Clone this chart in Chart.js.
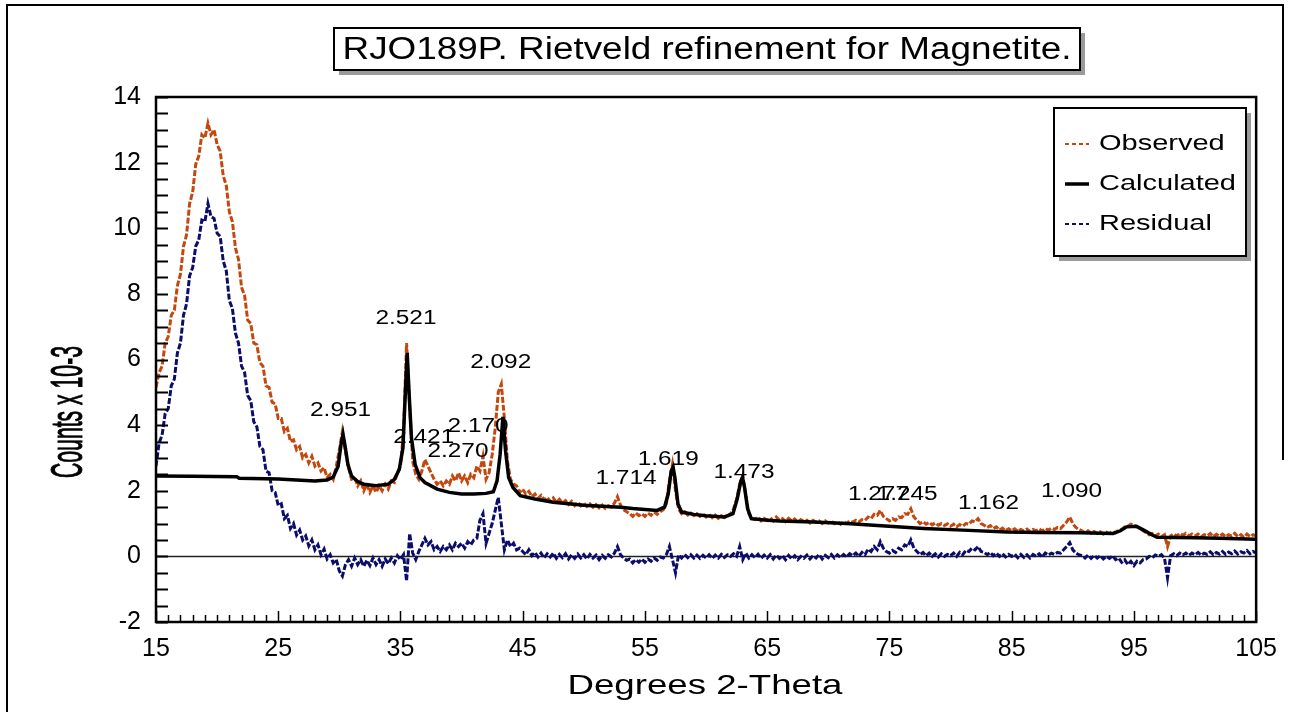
<!DOCTYPE html>
<html>
<head>
<meta charset="utf-8">
<script src="https://cdn.jsdelivr.net/npm/chart.js@4.4.0/dist/chart.umd.min.js"></script>
<style>
  body { margin: 0; background: #fff; }
  #box { width: 1289px; height: 712px; }
</style>
</head>
<body>
<div id="box"><canvas id="rietveldChart" width="1289" height="712"></canvas></div>
<script>
// 2-theta grid of the observed / residual patterns
var angleStart = 15;
var angleStep = 0.25;

// Counts x 10-3, one row = 5 degrees
var observed = [
    5.15, 5.6, 5.8, 6.5, 6.7, 7.35, 7.5, 8.25, 8.6, 9.45, 9.8, 10.75, 11.1, 11.95, 12.2, 12.85, 12.75, 13.2, 12.85, 13.0,
    12.55, 12.35, 11.6, 11.3, 10.5, 10.2, 9.4, 9.05, 8.2, 7.95, 7.2, 7.1, 6.5, 6.45, 5.9, 5.8, 5.2, 5.15, 4.7, 4.65,
    4.2, 4.2, 3.8, 3.9, 3.5, 3.55, 3.25, 3.35, 3.0, 3.1, 2.85, 3.05, 2.75, 2.85, 2.6, 2.7, 2.4, 2.5, 2.35, 2.75,
    3.25, 3.8, 3.2, 2.7, 2.35, 2.4, 2.15, 2.3, 2.0, 2.2, 1.95, 2.15, 1.95, 2.15, 2.0, 2.2, 2.05, 2.3, 2.25, 2.55,
    2.75, 3.8, 6.5, 4.6, 2.9, 2.5, 2.35, 2.6, 2.95, 2.75, 2.55, 2.35, 2.2, 2.3, 2.15, 2.3, 2.2, 2.45, 2.3, 2.55,
    2.3, 2.45, 2.25, 2.5, 2.4, 2.75, 2.6, 3.05, 2.35, 2.55, 3.1, 3.9, 5.0, 5.25, 4.2, 2.9, 2.35, 2.2, 2.15, 1.95,
    2.05, 1.9, 1.98, 1.82, 1.9, 1.76, 1.86, 1.72, 1.8, 1.68, 1.78, 1.64, 1.74, 1.62, 1.7, 1.58, 1.68, 1.55, 1.65, 1.54,
    1.62, 1.52, 1.6, 1.5, 1.58, 1.48, 1.56, 1.46, 1.54, 1.5, 1.62, 1.82, 1.56, 1.42, 1.36, 1.3, 1.22, 1.32, 1.24, 1.3,
    1.22, 1.32, 1.25, 1.35, 1.28, 1.36, 1.42, 1.6, 2.3, 2.8, 2.0, 1.45, 1.3, 1.36, 1.26, 1.32, 1.24, 1.3, 1.22, 1.28,
    1.2, 1.28, 1.18, 1.26, 1.16, 1.24, 1.18, 1.22, 1.3, 1.45, 1.75, 2.2, 2.45, 1.85, 1.3, 1.15, 1.12, 1.2, 1.08, 1.16,
    1.1, 1.18, 1.08, 1.2, 1.1, 1.15, 1.06, 1.16, 1.08, 1.14, 1.04, 1.12, 1.06, 1.1, 1.02, 1.1, 1.04, 1.08, 1.0, 1.08,
    1.02, 1.08, 1.0, 1.06, 0.98, 1.05, 1.0, 1.08, 1.04, 1.1, 1.05, 1.12, 1.1, 1.2, 1.15, 1.28, 1.25, 1.4, 1.22, 1.15,
    1.08, 1.15, 1.1, 1.2, 1.18, 1.3, 1.28, 1.45, 1.2, 1.1, 1.0, 1.06, 0.98, 1.04, 0.96, 1.02, 0.95, 1.0, 0.94, 0.99,
    0.92, 0.98, 0.9, 0.97, 0.92, 1.0, 0.98, 1.08, 1.05, 1.15, 1.0, 0.95, 0.88, 0.94, 0.85, 0.9, 0.8, 0.86, 0.78, 0.84,
    0.78, 0.84, 0.76, 0.82, 0.77, 0.83, 0.76, 0.82, 0.78, 0.84, 0.77, 0.85, 0.8, 0.86, 0.82, 0.88, 0.85, 0.95, 1.05, 1.2,
    1.0, 0.88, 0.82, 0.78, 0.72, 0.78, 0.7, 0.76, 0.7, 0.75, 0.68, 0.74, 0.7, 0.76, 0.72, 0.8, 0.82, 0.9, 0.92, 0.98,
    0.95, 0.9, 0.85, 0.78, 0.72, 0.66, 0.7, 0.62, 0.68, 0.6, 0.66, 0.3, 0.62, 0.68, 0.62, 0.7, 0.64, 0.7, 0.63, 0.68,
    0.62, 0.68, 0.6, 0.66, 0.63, 0.7, 0.6, 0.67, 0.62, 0.68, 0.6, 0.66, 0.62, 0.7, 0.6, 0.66, 0.58, 0.68, 0.6, 0.66,
    0.62
];

var residual = [
    2.75, 3.45, 3.7, 4.35, 4.5, 5.2, 5.4, 6.2, 6.5, 7.35, 7.7, 8.55, 8.8, 9.45, 9.65, 10.25, 10.2, 10.75, 10.35, 10.3,
    9.85, 9.75, 9.0, 8.7, 7.8, 7.55, 6.8, 6.5, 5.8, 5.6, 4.9, 4.75, 4.1, 3.95, 3.35, 3.25, 2.6, 2.55, 2.0, 1.95,
    1.55, 1.6, 1.15, 1.25, 0.85, 1.0, 0.65, 0.8, 0.5, 0.62, 0.32, 0.5, 0.2, 0.35, 0.05, 0.22, -0.08, 0.05, -0.2, -0.1,
    -0.45, -0.6, -0.25, -0.1, -0.3, -0.05, -0.25, -0.1, -0.3, -0.12, -0.28, -0.05, -0.25, -0.1, -0.3, -0.08, -0.22, -0.05, -0.2, 0.02,
    -0.1, 0.05, -0.75, 0.7, 0.1, -0.1, 0.15, 0.35, 0.55, 0.35, 0.45, 0.2, 0.3, 0.15, 0.3, 0.2, 0.35, 0.2, 0.4, 0.3,
    0.4, 0.25, 0.45, 0.35, 0.5, 0.55, 1.1, 1.3, 0.4, 0.7, 1.0, 1.4, 1.8, 1.0, 0.2, 0.5, 0.3, 0.4, 0.2, 0.25,
    0.15, 0.05, 0.2, 0.02, 0.12, -0.02, 0.1, -0.05, 0.08, -0.02, 0.1, -0.06, 0.06, -0.04, 0.08, -0.08, 0.05, -0.06, 0.07, -0.05,
    0.05, -0.08, 0.06, -0.05, 0.04, -0.1, 0.03, -0.06, 0.05, -0.02, 0.1, 0.3, 0.05, -0.05, -0.12, -0.08, -0.2, -0.1, -0.18, -0.08,
    -0.18, -0.08, -0.15, -0.05, -0.12, -0.02, -0.05, 0.05, 0.3, -0.1, -0.5, 0.05, -0.05, 0.06, -0.04, 0.05, -0.05, 0.04, -0.06, 0.03,
    -0.05, 0.05, -0.06, 0.04, -0.05, 0.06, -0.03, 0.05, 0.0, 0.08, 0.0, 0.3, -0.1, 0.1, -0.05, 0.05, -0.04, 0.06, -0.06, 0.04,
    -0.05, 0.05, -0.08, 0.04, -0.06, 0.02, -0.1, 0.03, -0.08, 0.02, -0.1, 0.0, -0.06, 0.04, -0.08, 0.02, -0.05, 0.06, -0.08, 0.03,
    -0.04, 0.06, -0.05, 0.05, -0.03, 0.06, -0.02, 0.08, 0.02, 0.1, 0.0, 0.12, 0.05, 0.22, 0.15, 0.3, 0.2, 0.45, 0.25, 0.15,
    0.1, 0.18, 0.12, 0.25, 0.2, 0.35, 0.3, 0.5, 0.25, 0.15, 0.05, 0.12, 0.02, 0.1, 0.0, 0.08, -0.02, 0.08, 0.0, 0.06,
    0.02, 0.1, 0.0, 0.12, 0.05, 0.18, 0.15, 0.25, 0.2, 0.3, 0.15, 0.12, 0.05, 0.12, 0.02, 0.1, 0.0, 0.08, -0.02, 0.06,
    0.0, 0.07, -0.04, 0.06, -0.03, 0.05, -0.05, 0.06, 0.0, 0.08, -0.02, 0.1, 0.04, 0.1, 0.06, 0.12, 0.1, 0.2, 0.3, 0.42,
    0.2, 0.1, 0.05, 0.02, -0.05, 0.04, -0.06, 0.03, -0.05, 0.02, -0.08, 0.0, -0.06, 0.02, -0.1, -0.05, -0.18, -0.1, -0.25, -0.15,
    -0.28, -0.15, -0.2, -0.1, -0.08, 0.0, -0.04, 0.04, 0.0, 0.05, -0.05, -0.65, 0.02, 0.08, 0.02, 0.1, 0.04, 0.1, 0.03, 0.1,
    0.05, 0.12, 0.04, 0.1, 0.06, 0.14, 0.05, 0.12, 0.07, 0.15, 0.06, 0.13, 0.08, 0.16, 0.07, 0.14, 0.1, 0.18, 0.08, 0.15,
    0.1
];

// calculated profile, its own 2-theta points
var calcAngles = [15, 18, 21.6, 21.8, 25, 28, 29, 29.5, 29.9, 30.15, 30.3, 30.45, 30.7, 31, 31.5, 32, 33, 34, 34.5, 34.9,
    35.2, 35.4, 35.55, 35.7, 35.9, 36.2, 36.6, 37, 38, 39, 40, 41, 42, 42.6, 42.9, 43.15, 43.38, 43.6, 43.85, 44.2,
    44.8, 46, 47.5, 50, 53, 54, 56, 56.6, 56.9, 57.15, 57.3, 57.45, 57.7, 58, 59, 60, 61.5, 62.2, 62.55, 62.85,
    62.98, 63.15, 63.4, 63.7, 65, 66, 68.8, 71.5, 75.6, 77.8, 81, 84.6, 87.3, 90.6, 93.3, 93.9, 94.4, 95.2, 95.8, 96.5,
    96.9, 100, 102, 105];
var calcCounts = [2.45, 2.44, 2.43, 2.38, 2.36, 2.3, 2.33, 2.42, 2.75, 3.45, 3.72, 3.4, 2.8, 2.45, 2.28, 2.2, 2.15, 2.2, 2.35, 2.65,
    3.3, 5.0, 6.2, 5.0, 3.6, 2.8, 2.4, 2.25, 2.05, 1.95, 1.9, 1.9, 1.92, 1.97, 2.3, 3.1, 4.25, 3.2, 2.4, 2.1,
    1.85, 1.75, 1.65, 1.56, 1.5, 1.46, 1.4, 1.5, 1.9, 2.6, 2.72, 2.4, 1.6, 1.35, 1.28, 1.24, 1.2, 1.3, 1.75, 2.3,
    2.4, 2.1, 1.45, 1.15, 1.1, 1.08, 1.05, 1.0, 0.9, 0.85, 0.8, 0.74, 0.73, 0.72, 0.7, 0.78, 0.9, 0.92, 0.8, 0.65,
    0.58, 0.57, 0.55, 0.52];

// d-spacing peak labels
var peakLabels = ['2.951', '2.521', '2.092', '2.421', '2.170', '2.270', '1.714', '1.619', '1.473', '1.277', '1.245', '1.162', '1.090'];
var peakAngles = [30.1, 35.45, 43.2, 36.9, 41.35, 39.7, 53.45, 56.9, 63.1, 74.1, 76.45, 83.1, 89.9];
var peakLabelCounts = [4.45, 7.26, 5.91, 3.63, 3.96, 3.2, 2.38, 2.96, 2.56, 1.89, 1.89, 1.62, 1.98];

var xMin = 15, xMax = 105, yMin = -2, yMax = 14;
var titleText = 'RJO189P. Rietveld refinement for Magnetite.';
var xTitle = 'Degrees 2-Theta';
var yTitle = 'Counts x 10-3';

var FONT = '"Liberation Sans", Arial, sans-serif';
var ORANGE = '#C4470D';
var NAVY = '#0C0C6C';

function gridPoints(values)
{
    return values.map(function (v, i) { return {x: angleStart + i * angleStep, y: v}; });
}

function stretchText(ctx, text, x, y, size, sx, align, angle, bold)
{
    ctx.save();
    ctx.font = size + 'px ' + FONT;
    ctx.translate(x, y);
    if (angle) ctx.rotate(angle);
    ctx.scale(sx, 1);
    ctx.textAlign = align;
    ctx.textBaseline = 'middle';
    ctx.fillStyle = '#000';
    ctx.fillText(text, 0, 0);
    if (bold)
    {
        ctx.strokeStyle = '#000';
        ctx.lineWidth = bold;
        ctx.strokeText(text, 0, 0);
    }
    ctx.restore();
}

function fitScale(ctx, text, size, width)
{
    ctx.save();
    ctx.font = size + 'px ' + FONT;
    var w = ctx.measureText(text).width;
    ctx.restore();
    return width / w;
}

function shadowBox(ctx, x, y, w, h)
{
    ctx.save();
    ctx.fillStyle = '#9a9a9a';
    ctx.fillRect(x + 5, y + 5, w, h);
    ctx.fillStyle = '#fff';
    ctx.fillRect(x, y, w, h);
    ctx.strokeStyle = '#000';
    ctx.lineWidth = 2;
    ctx.strokeRect(x, y, w, h);
    ctx.restore();
}

var rietveldPlugin = {
    id: 'rietveld',
    beforeDraw: function (chart) {
        var ctx = chart.ctx;
        ctx.save();
        ctx.fillStyle = '#fff';
        ctx.fillRect(0, 0, chart.width, chart.height);
        ctx.strokeStyle = '#000';
        ctx.lineWidth = 2;
        ctx.beginPath();
        ctx.moveTo(7, 712);
        ctx.lineTo(7, 5);
        ctx.lineTo(1283, 5);
        ctx.lineTo(1283, 460);
        ctx.stroke();
        ctx.restore();
    },
    beforeDatasetsDraw: function (chart) {
        var ctx = chart.ctx, a = chart.chartArea;
        var y0 = chart.scales.y.getPixelForValue(0);
        ctx.save();
        ctx.strokeStyle = '#222';
        ctx.lineWidth = 1.5;
        ctx.beginPath();
        ctx.moveTo(a.left, y0);
        ctx.lineTo(a.right, y0);
        ctx.stroke();
        ctx.restore();
    },
    afterDatasetsDraw: function (chart) {
        var ctx = chart.ctx, a = chart.chartArea;
        var xs = chart.scales.x, ys = chart.scales.y;
        ctx.save();
        ctx.strokeStyle = '#000';
        // inner ticks, y every 0.5
        ctx.lineWidth = 2;
        ctx.beginPath();
        for (var v = yMin; v <= yMax; v += 0.5)
        {
            var py = Math.round(ys.getPixelForValue(v)) + 0.5;
            ctx.moveTo(a.left, py);
            ctx.lineTo(a.left + 12, py);
        }
        ctx.stroke();
        // inner ticks, x every degree
        ctx.lineWidth = 1.5;
        ctx.beginPath();
        for (var d = xMin; d <= xMax; d += 1)
        {
            var px = Math.round(xs.getPixelForValue(d)) + 0.5;
            var len = ((d - xMin) % 10 === 0) ? 11 : 7;
            ctx.moveTo(px, a.bottom);
            ctx.lineTo(px, a.bottom - len);
        }
        ctx.stroke();
        ctx.lineWidth = 2.5;
        ctx.strokeRect(a.left, a.top, a.right - a.left, a.bottom - a.top);
        ctx.restore();
    },
    afterDraw: function (chart) {
        var ctx = chart.ctx;
        var xs = chart.scales.x, ys = chart.scales.y;

        // title box
        shadowBox(ctx, 334, 28, 746, 42);
        stretchText(ctx, titleText, 707, 50, 31, fitScale(ctx, titleText, 31, 729), 'center');

        // axis titles
        stretchText(ctx, xTitle, 705, 686, 28, fitScale(ctx, xTitle, 28, 275), 'center');
        stretchText(ctx, yTitle, 70, 412, 44, fitScale(ctx, yTitle, 44, 132), 'center', -Math.PI / 2, 1);

        // peak labels
        for (var i = 0; i < peakLabels.length; i++)
        {
            stretchText(ctx, peakLabels[i], xs.getPixelForValue(peakAngles[i]), ys.getPixelForValue(peakLabelCounts[i]), 20, 1.22, 'center');
        }

        // legend
        shadowBox(ctx, 1054, 108, 192, 148);
        var legendSx = fitScale(ctx, 'Calculated', 22, 137);
        var rowsY = [144, 184, 224];
        chart.data.datasets.forEach(function (ds, k) {
            ctx.save();
            ctx.strokeStyle = ds.borderColor;
            ctx.lineWidth = k === 1 ? 3.5 : 2;
            ctx.setLineDash(k === 1 ? [] : [4, 3]);
            ctx.beginPath();
            ctx.moveTo(1065, rowsY[k]);
            ctx.lineTo(1089, rowsY[k]);
            ctx.stroke();
            ctx.restore();
            stretchText(ctx, ds.label, 1099, rowsY[k], 22, legendSx, 'left');
        });
    }
};

var ctx = document.getElementById('rietveldChart');
var rietveldChart = new Chart(ctx, {
    type: 'scatter',
    data: {
        datasets: [{
            label: 'Observed',
            data: gridPoints(observed),
            showLine: true,
            borderColor: ORANGE,
            borderWidth: 3,
            borderDash: [6, 2],
            pointRadius: 0,
            order: 1
        },
        {
            label: 'Calculated',
            data: calcAngles.map(function (a, i) { return {x: a, y: calcCounts[i]}; }),
            showLine: true,
            borderColor: '#000',
            borderWidth: 3.5,
            pointRadius: 0,
            order: 0
        },
        {
            label: 'Residual',
            data: gridPoints(residual),
            showLine: true,
            borderColor: NAVY,
            borderWidth: 3,
            borderDash: [6, 2],
            pointRadius: 0,
            order: 2
        }]
    },
    options: {
        responsive: false,
        animation: false,
        devicePixelRatio: 1,
        layout: {
            padding: {top: 97, right: 32, left: 0, bottom: 0}
        },
        plugins: {
            legend: {display: false},
            tooltip: {enabled: false},
            title: {display: false}
        },
        scales: {
            x: {
                type: 'linear',
                min: xMin,
                max: xMax,
                afterFit: function (scale) { scale.height = 90; },
                grid: {display: false, drawTicks: false},
                border: {display: false},
                ticks: {
                    stepSize: 10,
                    padding: 12,
                    color: '#000',
                    font: {family: FONT, size: 25}
                }
            },
            y: {
                type: 'linear',
                min: yMin,
                max: yMax,
                afterFit: function (scale) { scale.width = 156; },
                grid: {display: false, drawTicks: false},
                border: {display: false},
                ticks: {
                    stepSize: 2,
                    padding: 15,
                    color: '#000',
                    font: {family: FONT, size: 25}
                }
            }
        }
    },
    plugins: [rietveldPlugin]
});
</script>
</body>
</html>
